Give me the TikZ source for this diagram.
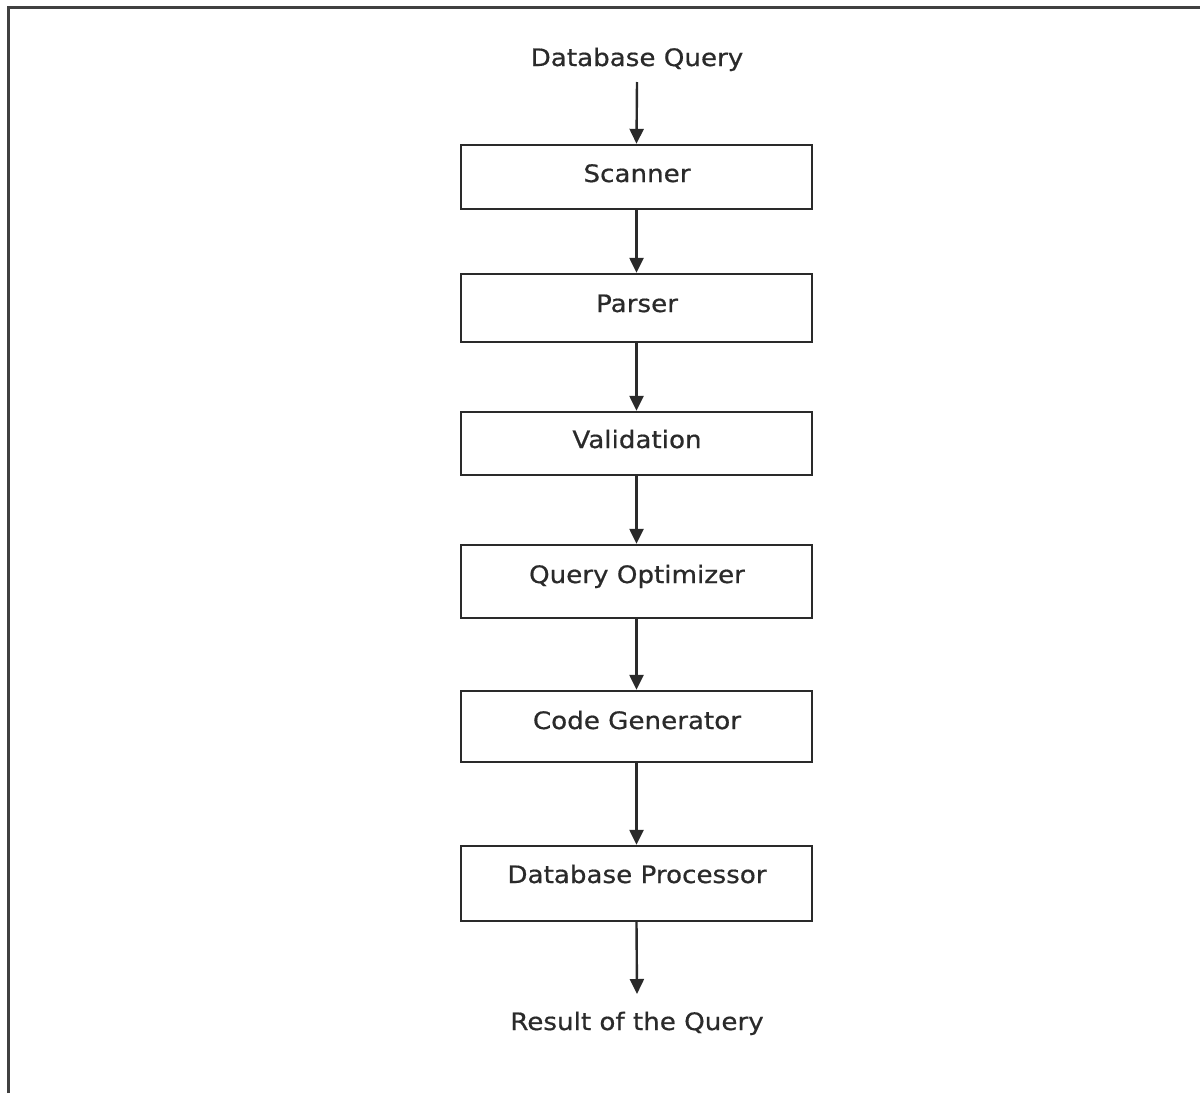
\documentclass[tikz,border=0pt]{standalone}
\usepackage{fontspec}
\setmainfont{DejaVu Sans}[FakeStretch=1.09,FakeBold=0.6]
\usetikzlibrary{arrows.meta}
\definecolor{ink}{HTML}{2A2A2A}
\definecolor{frame}{HTML}{404040}
\tikzset{
  stage/.style={draw=ink, line width=2.4pt, minimum width=351pt, inner sep=0pt, fill=white},
  lbl/.style={anchor=base, inner sep=0pt, text=ink, font=\fontsize{24}{28}\selectfont},
  flow/.style={draw=ink, line width=2.4pt, -{Triangle[length=15pt,width=14pt]}}
}
\begin{document}
\begin{tikzpicture}[x=1pt,y=-1pt]
\useasboundingbox (0,0) rectangle (1200,1093);
\fill[white] (0,0) rectangle (1200,1093);
% frame
\draw[frame, line width=3pt] (8,1093) -- (8,7) -- (1200,7);

% boxes
\node[stage, minimum height=64pt] (scan)  at (636.5,177) {};
\node[stage, minimum height=68pt] (pars)  at (636.5,308) {};
\node[stage, minimum height=63pt] (valid) at (636.5,443.5) {};
\node[stage, minimum height=73pt] (opt)   at (636.5,581.5) {};
\node[stage, minimum height=71pt] (gen)   at (636.5,726.5) {};
\node[stage, minimum height=75pt] (proc)  at (636.5,883.5) {};

% labels
\node[lbl] (q)    at (637,66)   {Database Query};
\node[lbl] (tscan)  at (637,182) {Scanner};
\node[lbl] (tpars)  at (637,312) {Parser};
\node[lbl] (tvalid) at (637,448) {Validation};
\node[lbl] (topt)   at (637,583) {Query Optimizer};
\node[lbl] (tgen)   at (637,729) {Code Generator};
\node[lbl] (tproc)  at (637,883) {Database Processor};
\node[lbl] (res)    at (637,1030) {Result of the Query};

\coordinate (qend) at (637,82);
\coordinate (rend) at (637,994);

% connectors
\draw[flow] (qend) -- (scan.north);
\draw[flow] (scan.south) -- (pars.north);
\draw[flow] (pars.south) -- (valid.north);
\draw[flow] (valid.south) -- (opt.north);
\draw[flow] (opt.south) -- (gen.north);
\draw[flow] (gen.south) -- (proc.north);
\draw[flow] (proc.south) -- (rend);
\end{tikzpicture}
\end{document}
